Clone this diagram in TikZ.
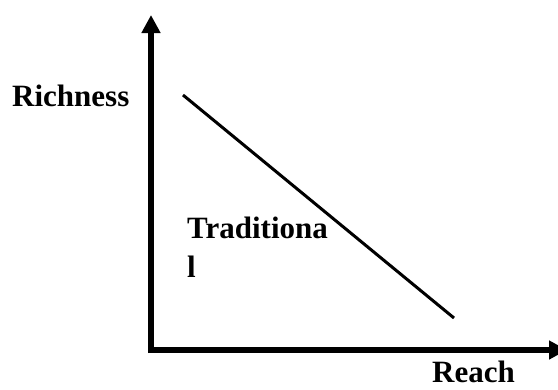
\documentclass[tikz,border=0pt]{standalone}
\usepackage{fontspec}
\setmainfont{Liberation Serif}
\usepackage{tikz}
\usetikzlibrary{arrows.meta}

\begin{document}
\begin{tikzpicture}[x=1pt, y=-1pt, font=\fontsize{31}{39}\selectfont\bfseries, lbl/.style={inner sep=0pt, anchor=base west}, axis/.style={-{Triangle[length=18pt, width=18pt]}, line width=6pt}]
\clip (0,0) rectangle (558,389);
\coordinate (corner) at (151,350);
\coordinate (ytop) at (151,15);
\coordinate (xend) at (567,350);
\coordinate (hi) at (183,95);
\coordinate (lo) at (454,318);
\draw[axis] (151,353) -- (ytop);
\draw[axis] (148,350) -- (xend);
\draw[line width=3pt] (hi) -- (lo);
\node[lbl] (richness) at (12,106) {Richness};
\node[lbl, align=left] (trad) at (187,277) {Traditiona\\l};
\node[lbl] (reach) at (432,382) {Reach};
\end{tikzpicture}
\end{document}
